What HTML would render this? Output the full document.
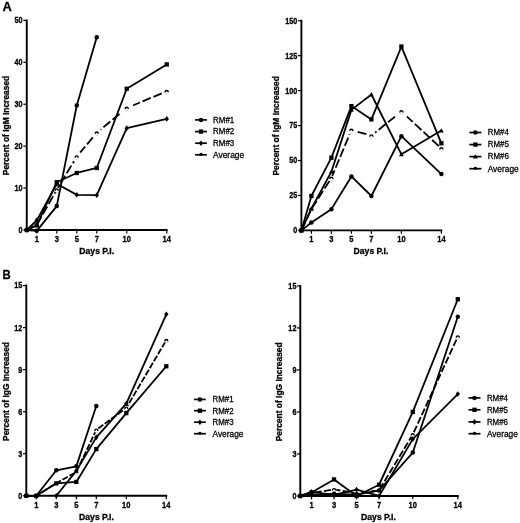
<!DOCTYPE html>
<html><head><meta charset="utf-8"><title>Figure</title>
<style>html,body{margin:0;padding:0;background:#fff}body{width:520px;height:523px;position:relative;overflow:hidden;font-family:"Liberation Sans",sans-serif}</style>
</head><body>
<svg width="520" height="523" viewBox="0 0 520 523" style="position:absolute;left:0;top:0;filter:blur(0.3px);font-family:'Liberation Sans',sans-serif">
<rect width="520" height="523" fill="#fff"/>
<text transform="translate(2.60 11.40) scale(1.0 1)" font-size="12.9" font-weight="bold" text-anchor="start" fill="#000" stroke="#000" stroke-width="0.3">A</text>
<text transform="translate(2.60 278.90) scale(0.9 1)" font-size="12.6" font-weight="bold" text-anchor="start" fill="#000" stroke="#000" stroke-width="0.3">B</text>
<path d="M26.75 230.00L34.60 226.05M36.97 224.58L41.42 216.76M42.82 214.28L47.27 206.45M48.68 203.97L53.12 196.15M54.53 193.67L56.75 189.76M56.75 189.76L59.08 185.90M59.08 185.90L59.08 185.90M60.55 183.46L65.20 175.76M66.68 173.32L71.33 165.62M72.80 163.18L76.75 156.64M76.75 156.64L77.62 155.59M77.62 155.59L77.62 155.59M79.45 153.41L85.23 146.51M87.06 144.32L92.84 137.42M94.67 135.24L96.75 132.75M96.75 132.75L101.19 129.09M101.19 129.09L101.19 129.09M103.39 127.27L110.33 121.55M112.53 119.73L119.48 114.01M119.48 114.01L119.48 114.01M121.67 112.20L126.75 108.01M126.75 108.01L128.98 107.08M128.98 107.08L128.98 107.08M131.61 105.97L139.91 102.50M139.91 102.50L139.91 102.50M142.54 101.39L150.84 97.91M153.47 96.81L161.77 93.33M164.40 92.23L166.75 91.24" fill="none" stroke="#000" stroke-width="1.8"/>
<circle cx="36.75" cy="225.17" r="2.40" fill="#fff"/><path d="M35.25 226.07V225.72A1.50 1.50 0 0 1 38.25 225.72V226.07" fill="none" stroke="#000" stroke-width="1.40"/><path d="M35.25 226.52A1.50 1.50 0 0 0 38.25 226.52" fill="none" stroke="#bbb" stroke-width="0.5"/>
<circle cx="56.75" cy="189.96" r="2.40" fill="#fff"/><path d="M55.25 190.86V190.51A1.50 1.50 0 0 1 58.25 190.51V190.86" fill="none" stroke="#000" stroke-width="1.40"/><path d="M55.25 191.31A1.50 1.50 0 0 0 58.25 191.31" fill="none" stroke="#bbb" stroke-width="0.5"/>
<circle cx="76.75" cy="156.64" r="5.4" fill="#fff"/><circle cx="76.75" cy="156.84" r="2.40" fill="#fff"/><path d="M75.25 157.74V157.39A1.50 1.50 0 0 1 78.25 157.39V157.74" fill="none" stroke="#000" stroke-width="1.40"/><path d="M75.25 158.19A1.50 1.50 0 0 0 78.25 158.19" fill="none" stroke="#bbb" stroke-width="0.5"/>
<circle cx="96.75" cy="132.75" r="5.0" fill="#fff"/><circle cx="96.75" cy="132.95" r="2.40" fill="#fff"/><path d="M95.25 133.85V133.50A1.50 1.50 0 0 1 98.25 133.50V133.85" fill="none" stroke="#000" stroke-width="1.40"/><path d="M95.25 134.30A1.50 1.50 0 0 0 98.25 134.30" fill="none" stroke="#bbb" stroke-width="0.5"/>
<circle cx="126.75" cy="108.01" r="7.0" fill="#fff"/><circle cx="126.75" cy="108.21" r="2.40" fill="#fff"/><path d="M125.25 109.11V108.76A1.50 1.50 0 0 1 128.25 108.76V109.11" fill="none" stroke="#000" stroke-width="1.40"/><path d="M125.25 109.56A1.50 1.50 0 0 0 128.25 109.56" fill="none" stroke="#bbb" stroke-width="0.5"/>
<circle cx="166.75" cy="91.44" r="2.40" fill="#fff"/><path d="M165.25 92.34V91.99A1.50 1.50 0 0 1 168.25 91.99V92.34" fill="none" stroke="#000" stroke-width="1.40"/><path d="M165.25 92.79A1.50 1.50 0 0 0 168.25 92.79" fill="none" stroke="#bbb" stroke-width="0.5"/>
<path d="M26.75 19.45V230.00H167.70" fill="none" stroke="#000" stroke-width="1.9" stroke-linejoin="miter"/>
<path d="M23.35 230.00H26.75" stroke="#000" stroke-width="1.2"/>
<text transform="translate(22.55 232.90) scale(0.88 1)" font-size="8.2" font-weight="bold" text-anchor="end" fill="#000" stroke="#000" stroke-width="0.3">0</text>
<path d="M23.35 188.08H26.75" stroke="#000" stroke-width="1.2"/>
<text transform="translate(22.55 190.98) scale(0.88 1)" font-size="8.2" font-weight="bold" text-anchor="end" fill="#000" stroke="#000" stroke-width="0.3">10</text>
<path d="M23.35 146.16H26.75" stroke="#000" stroke-width="1.2"/>
<text transform="translate(22.55 149.06) scale(0.88 1)" font-size="8.2" font-weight="bold" text-anchor="end" fill="#000" stroke="#000" stroke-width="0.3">20</text>
<path d="M23.35 104.24H26.75" stroke="#000" stroke-width="1.2"/>
<text transform="translate(22.55 107.14) scale(0.88 1)" font-size="8.2" font-weight="bold" text-anchor="end" fill="#000" stroke="#000" stroke-width="0.3">30</text>
<path d="M23.35 62.32H26.75" stroke="#000" stroke-width="1.2"/>
<text transform="translate(22.55 65.22) scale(0.88 1)" font-size="8.2" font-weight="bold" text-anchor="end" fill="#000" stroke="#000" stroke-width="0.3">40</text>
<path d="M23.35 20.40H26.75" stroke="#000" stroke-width="1.2"/>
<text transform="translate(22.55 23.30) scale(0.88 1)" font-size="8.2" font-weight="bold" text-anchor="end" fill="#000" stroke="#000" stroke-width="0.3">50</text>
<path d="M36.75 230.00V233.40" stroke="#000" stroke-width="1.2"/>
<text transform="translate(36.75 241.90) scale(0.92 1)" font-size="8.2" font-weight="bold" text-anchor="middle" fill="#000" stroke="#000" stroke-width="0.3">1</text>
<path d="M56.75 230.00V233.40" stroke="#000" stroke-width="1.2"/>
<text transform="translate(56.75 241.90) scale(0.92 1)" font-size="8.2" font-weight="bold" text-anchor="middle" fill="#000" stroke="#000" stroke-width="0.3">3</text>
<path d="M76.75 230.00V233.40" stroke="#000" stroke-width="1.2"/>
<text transform="translate(76.75 241.90) scale(0.92 1)" font-size="8.2" font-weight="bold" text-anchor="middle" fill="#000" stroke="#000" stroke-width="0.3">5</text>
<path d="M96.75 230.00V233.40" stroke="#000" stroke-width="1.2"/>
<text transform="translate(96.75 241.90) scale(0.92 1)" font-size="8.2" font-weight="bold" text-anchor="middle" fill="#000" stroke="#000" stroke-width="0.3">7</text>
<path d="M126.75 230.00V233.40" stroke="#000" stroke-width="1.2"/>
<text transform="translate(126.75 241.90) scale(0.92 1)" font-size="8.2" font-weight="bold" text-anchor="middle" fill="#000" stroke="#000" stroke-width="0.3">10</text>
<path d="M166.75 230.00V233.40" stroke="#000" stroke-width="1.2"/>
<text transform="translate(166.75 241.90) scale(0.92 1)" font-size="8.2" font-weight="bold" text-anchor="middle" fill="#000" stroke="#000" stroke-width="0.3">14</text>
<text transform="translate(96.75 254.00) scale(0.98 1)" font-size="8.8" font-weight="bold" text-anchor="middle" fill="#000" stroke="#000" stroke-width="0.3">Days P.I.</text>
<text transform="translate(9.30 125.50) rotate(-90) scale(0.955 1)" font-size="8.8" font-weight="bold" text-anchor="middle" fill="#000" stroke="#000" stroke-width="0.3">Percent of IgM Increased</text>
<polyline points="26.75,230.00 36.75,230.84 56.75,206.11 76.75,105.50 96.75,37.17" fill="none" stroke="#000" stroke-width="1.8" stroke-linejoin="round"/>
<polyline points="26.75,230.00 36.75,225.39 56.75,182.21 76.75,172.99 96.75,167.96 126.75,88.73 166.75,64.42" fill="none" stroke="#000" stroke-width="1.8" stroke-linejoin="round"/>
<polyline points="26.75,230.00 36.75,220.36 56.75,183.89 76.75,194.79 96.75,195.21 126.75,128.13 166.75,118.91" fill="none" stroke="#000" stroke-width="1.8" stroke-linejoin="round"/>
<circle cx="26.75" cy="230.00" r="2.25" fill="#000"/>
<circle cx="36.75" cy="230.84" r="2.25" fill="#000"/>
<circle cx="56.75" cy="206.11" r="2.25" fill="#000"/>
<circle cx="76.75" cy="105.50" r="2.25" fill="#000"/>
<circle cx="96.75" cy="37.17" r="2.25" fill="#000"/>
<rect x="24.60" y="227.85" width="4.30" height="4.30" fill="#000"/>
<rect x="34.60" y="223.24" width="4.30" height="4.30" fill="#000"/>
<rect x="54.60" y="180.06" width="4.30" height="4.30" fill="#000"/>
<rect x="74.60" y="170.84" width="4.30" height="4.30" fill="#000"/>
<rect x="94.60" y="165.81" width="4.30" height="4.30" fill="#000"/>
<rect x="124.60" y="86.58" width="4.30" height="4.30" fill="#000"/>
<rect x="164.60" y="62.27" width="4.30" height="4.30" fill="#000"/>
<path d="M26.75 227.20L28.93 230.00L26.75 232.80L24.57 230.00Z" fill="#000"/>
<path d="M36.75 217.56L38.93 220.36L36.75 223.16L34.57 220.36Z" fill="#000"/>
<path d="M56.75 181.09L58.93 183.89L56.75 186.69L54.57 183.89Z" fill="#000"/>
<path d="M76.75 191.99L78.93 194.79L76.75 197.59L74.57 194.79Z" fill="#000"/>
<path d="M96.75 192.41L98.93 195.21L96.75 198.01L94.57 195.21Z" fill="#000"/>
<path d="M126.75 125.33L128.93 128.13L126.75 130.93L124.57 128.13Z" fill="#000"/>
<path d="M166.75 116.11L168.93 118.91L166.75 121.71L164.57 118.91Z" fill="#000"/>
<path d="M195.10 119.90h11.80" stroke="#000" stroke-width="1.7"/>
<circle cx="201.00" cy="119.90" r="2.25" fill="#000"/>
<text transform="translate(213.10 122.70) scale(0.9 1)" font-size="8.8" text-anchor="start" fill="#000" stroke="#000" stroke-width="0.28">RM#1</text>
<path d="M195.10 131.60h11.80" stroke="#000" stroke-width="1.7"/>
<rect x="198.85" y="129.45" width="4.30" height="4.30" fill="#000"/>
<text transform="translate(213.10 134.40) scale(0.9 1)" font-size="8.8" text-anchor="start" fill="#000" stroke="#000" stroke-width="0.28">RM#2</text>
<path d="M195.10 143.20h11.80" stroke="#000" stroke-width="1.7"/>
<path d="M201.00 140.40L203.18 143.20L201.00 146.00L198.82 143.20Z" fill="#000"/>
<text transform="translate(213.10 146.00) scale(0.9 1)" font-size="8.8" text-anchor="start" fill="#000" stroke="#000" stroke-width="0.28">RM#3</text>
<path d="M195.10 154.80h11.80" stroke="#000" stroke-width="1.7"/>
<path d="M199.85 155.10V154.60A1.15 1.15 0 0 1 202.15 154.60V155.10Z" fill="#000" stroke="#000" stroke-width="1.2"/>
<text transform="translate(213.10 157.60) scale(0.95 1)" font-size="8.8" text-anchor="start" fill="#000" stroke="#000" stroke-width="0.28">Average</text>
<path d="M301.62 229.94L305.43 221.78M306.64 219.20L310.45 211.05M311.72 208.51L316.60 200.94M318.14 198.55L323.02 190.98M323.02 190.98L323.02 190.98M324.56 188.59L329.44 181.02M330.98 178.62L331.40 177.98M331.40 177.98L334.57 170.38M335.66 167.75L339.13 159.44M339.13 159.44L339.13 159.44M340.23 156.81L343.69 148.51M344.79 145.88L348.25 137.57M349.35 134.94L351.40 130.02M351.40 130.02L354.94 131.01M354.94 131.01L354.94 131.01M357.68 131.78L366.35 134.20M369.09 134.97L371.40 135.62M371.40 135.62L376.54 131.47M376.54 131.47L376.54 131.47M378.76 129.68L385.77 124.03M385.77 124.03L385.77 124.03M387.99 122.24L394.99 116.60M394.99 116.60L394.99 116.60M397.21 114.81L401.40 111.43M401.40 111.43L404.06 113.89M406.15 115.83L412.75 121.94M414.84 123.88L421.44 129.99M423.54 131.93L430.14 138.05M430.14 138.05L430.14 138.05M432.23 139.98L438.83 146.10M438.83 146.10L438.83 146.10M440.92 148.04L441.40 148.48" fill="none" stroke="#000" stroke-width="1.8"/>
<circle cx="311.40" cy="209.21" r="2.40" fill="#fff"/><path d="M309.90 210.11V209.76A1.50 1.50 0 0 1 312.90 209.76V210.11" fill="none" stroke="#000" stroke-width="1.40"/><path d="M309.90 210.56A1.50 1.50 0 0 0 312.90 210.56" fill="none" stroke="#bbb" stroke-width="0.5"/>
<circle cx="331.40" cy="178.18" r="2.40" fill="#fff"/><path d="M329.90 179.08V178.73A1.50 1.50 0 0 1 332.90 178.73V179.08" fill="none" stroke="#000" stroke-width="1.40"/><path d="M329.90 179.53A1.50 1.50 0 0 0 332.90 179.53" fill="none" stroke="#bbb" stroke-width="0.5"/>
<circle cx="351.40" cy="130.02" r="4.6" fill="#fff"/><circle cx="351.40" cy="130.22" r="2.40" fill="#fff"/><path d="M349.90 131.12V130.77A1.50 1.50 0 0 1 352.90 130.77V131.12" fill="none" stroke="#000" stroke-width="1.40"/><path d="M349.90 131.57A1.50 1.50 0 0 0 352.90 131.57" fill="none" stroke="#bbb" stroke-width="0.5"/>
<circle cx="371.40" cy="135.62" r="4.6" fill="#fff"/><circle cx="371.40" cy="135.82" r="2.40" fill="#fff"/><path d="M369.90 136.72V136.37A1.50 1.50 0 0 1 372.90 136.37V136.72" fill="none" stroke="#000" stroke-width="1.40"/><path d="M369.90 137.17A1.50 1.50 0 0 0 372.90 137.17" fill="none" stroke="#bbb" stroke-width="0.5"/>
<circle cx="401.40" cy="111.43" r="7.6" fill="#fff"/><circle cx="401.40" cy="111.63" r="2.40" fill="#fff"/><path d="M399.90 112.53V112.18A1.50 1.50 0 0 1 402.90 112.18V112.53" fill="none" stroke="#000" stroke-width="1.40"/><path d="M399.90 112.98A1.50 1.50 0 0 0 402.90 112.98" fill="none" stroke="#bbb" stroke-width="0.5"/>
<circle cx="441.40" cy="148.68" r="2.40" fill="#fff"/><path d="M439.90 149.58V149.23A1.50 1.50 0 0 1 442.90 149.23V149.58" fill="none" stroke="#000" stroke-width="1.40"/><path d="M439.90 150.03A1.50 1.50 0 0 0 442.90 150.03" fill="none" stroke="#bbb" stroke-width="0.5"/>
<path d="M301.40 19.75V230.40H442.35" fill="none" stroke="#000" stroke-width="1.9" stroke-linejoin="miter"/>
<path d="M298.00 230.40H301.40" stroke="#000" stroke-width="1.2"/>
<text transform="translate(297.30 233.30) scale(0.88 1)" font-size="8.2" font-weight="bold" text-anchor="end" fill="#000" stroke="#000" stroke-width="0.3">0</text>
<path d="M298.00 195.45H301.40" stroke="#000" stroke-width="1.2"/>
<text transform="translate(297.30 198.35) scale(0.88 1)" font-size="8.2" font-weight="bold" text-anchor="end" fill="#000" stroke="#000" stroke-width="0.3">25</text>
<path d="M298.00 160.50H301.40" stroke="#000" stroke-width="1.2"/>
<text transform="translate(297.30 163.40) scale(0.88 1)" font-size="8.2" font-weight="bold" text-anchor="end" fill="#000" stroke="#000" stroke-width="0.3">50</text>
<path d="M298.00 125.55H301.40" stroke="#000" stroke-width="1.2"/>
<text transform="translate(297.30 128.45) scale(0.88 1)" font-size="8.2" font-weight="bold" text-anchor="end" fill="#000" stroke="#000" stroke-width="0.3">75</text>
<path d="M298.00 90.60H301.40" stroke="#000" stroke-width="1.2"/>
<text transform="translate(297.30 93.50) scale(0.88 1)" font-size="8.2" font-weight="bold" text-anchor="end" fill="#000" stroke="#000" stroke-width="0.3">100</text>
<path d="M298.00 55.65H301.40" stroke="#000" stroke-width="1.2"/>
<text transform="translate(297.30 58.55) scale(0.88 1)" font-size="8.2" font-weight="bold" text-anchor="end" fill="#000" stroke="#000" stroke-width="0.3">125</text>
<path d="M298.00 20.70H301.40" stroke="#000" stroke-width="1.2"/>
<text transform="translate(297.30 23.60) scale(0.88 1)" font-size="8.2" font-weight="bold" text-anchor="end" fill="#000" stroke="#000" stroke-width="0.3">150</text>
<path d="M311.40 230.40V233.80" stroke="#000" stroke-width="1.2"/>
<text transform="translate(311.40 242.30) scale(0.92 1)" font-size="8.2" font-weight="bold" text-anchor="middle" fill="#000" stroke="#000" stroke-width="0.3">1</text>
<path d="M331.40 230.40V233.80" stroke="#000" stroke-width="1.2"/>
<text transform="translate(331.40 242.30) scale(0.92 1)" font-size="8.2" font-weight="bold" text-anchor="middle" fill="#000" stroke="#000" stroke-width="0.3">3</text>
<path d="M351.40 230.40V233.80" stroke="#000" stroke-width="1.2"/>
<text transform="translate(351.40 242.30) scale(0.92 1)" font-size="8.2" font-weight="bold" text-anchor="middle" fill="#000" stroke="#000" stroke-width="0.3">5</text>
<path d="M371.40 230.40V233.80" stroke="#000" stroke-width="1.2"/>
<text transform="translate(371.40 242.30) scale(0.92 1)" font-size="8.2" font-weight="bold" text-anchor="middle" fill="#000" stroke="#000" stroke-width="0.3">7</text>
<path d="M401.40 230.40V233.80" stroke="#000" stroke-width="1.2"/>
<text transform="translate(401.40 242.30) scale(0.92 1)" font-size="8.2" font-weight="bold" text-anchor="middle" fill="#000" stroke="#000" stroke-width="0.3">10</text>
<path d="M441.40 230.40V233.80" stroke="#000" stroke-width="1.2"/>
<text transform="translate(441.40 242.30) scale(0.92 1)" font-size="8.2" font-weight="bold" text-anchor="middle" fill="#000" stroke="#000" stroke-width="0.3">14</text>
<text transform="translate(371.00 254.20) scale(0.98 1)" font-size="8.8" font-weight="bold" text-anchor="middle" fill="#000" stroke="#000" stroke-width="0.3">Days P.I.</text>
<text transform="translate(279.40 125.85) rotate(-90) scale(0.955 1)" font-size="8.8" font-weight="bold" text-anchor="middle" fill="#000" stroke="#000" stroke-width="0.3">Percent of IgM Increased</text>
<polyline points="301.40,230.40 311.40,222.43 331.40,209.15 351.40,176.44 371.40,196.01 401.40,136.17 441.40,174.06" fill="none" stroke="#000" stroke-width="1.8" stroke-linejoin="round"/>
<polyline points="301.40,230.40 311.40,196.01 331.40,157.70 351.40,106.12 371.40,119.40 401.40,46.56 441.40,143.30" fill="none" stroke="#000" stroke-width="1.8" stroke-linejoin="round"/>
<polyline points="301.40,230.40 311.40,208.73 331.40,171.68 351.40,109.89 371.40,94.51 401.40,154.35 441.40,130.58" fill="none" stroke="#000" stroke-width="1.8" stroke-linejoin="round"/>
<circle cx="301.40" cy="230.40" r="2.25" fill="#000"/>
<circle cx="311.40" cy="222.43" r="2.25" fill="#000"/>
<circle cx="331.40" cy="209.15" r="2.25" fill="#000"/>
<circle cx="351.40" cy="176.44" r="2.25" fill="#000"/>
<circle cx="371.40" cy="196.01" r="2.25" fill="#000"/>
<circle cx="401.40" cy="136.17" r="2.25" fill="#000"/>
<circle cx="441.40" cy="174.06" r="2.25" fill="#000"/>
<rect x="299.25" y="228.25" width="4.30" height="4.30" fill="#000"/>
<rect x="309.25" y="193.86" width="4.30" height="4.30" fill="#000"/>
<rect x="329.25" y="155.55" width="4.30" height="4.30" fill="#000"/>
<rect x="349.25" y="103.97" width="4.30" height="4.30" fill="#000"/>
<rect x="369.25" y="117.25" width="4.30" height="4.30" fill="#000"/>
<rect x="399.25" y="44.41" width="4.30" height="4.30" fill="#000"/>
<rect x="439.25" y="141.15" width="4.30" height="4.30" fill="#000"/>
<path d="M301.40 228.00L303.80 232.32L299.00 232.32Z" fill="#000"/>
<path d="M311.40 206.33L313.80 210.65L309.00 210.65Z" fill="#000"/>
<path d="M331.40 169.28L333.80 173.60L329.00 173.60Z" fill="#000"/>
<path d="M351.40 107.49L353.80 111.81L349.00 111.81Z" fill="#000"/>
<path d="M371.40 92.11L373.80 96.43L369.00 96.43Z" fill="#000"/>
<path d="M401.40 151.95L403.80 156.27L399.00 156.27Z" fill="#000"/>
<path d="M441.40 128.18L443.80 132.50L439.00 132.50Z" fill="#000"/>
<path d="M469.40 132.50h12.00" stroke="#000" stroke-width="1.7"/>
<circle cx="475.40" cy="132.50" r="2.25" fill="#000"/>
<text transform="translate(487.70 135.30) scale(0.9 1)" font-size="8.8" text-anchor="start" fill="#000" stroke="#000" stroke-width="0.28">RM#4</text>
<path d="M469.40 144.60h12.00" stroke="#000" stroke-width="1.7"/>
<rect x="473.25" y="142.45" width="4.30" height="4.30" fill="#000"/>
<text transform="translate(487.70 147.40) scale(0.9 1)" font-size="8.8" text-anchor="start" fill="#000" stroke="#000" stroke-width="0.28">RM#5</text>
<path d="M469.40 156.60h12.00" stroke="#000" stroke-width="1.7"/>
<path d="M475.40 154.20L477.80 158.52L473.00 158.52Z" fill="#000"/>
<text transform="translate(487.70 159.40) scale(0.9 1)" font-size="8.8" text-anchor="start" fill="#000" stroke="#000" stroke-width="0.28">RM#6</text>
<path d="M469.40 168.70h12.00" stroke="#000" stroke-width="1.7"/>
<path d="M474.25 169.00V168.50A1.15 1.15 0 0 1 476.55 168.50V169.00Z" fill="#000" stroke="#000" stroke-width="1.2"/>
<text transform="translate(487.70 171.50) scale(0.95 1)" font-size="8.8" text-anchor="start" fill="#000" stroke="#000" stroke-width="0.28">Average</text>
<path d="M36.30 495.80L40.18 493.36M41.70 492.40L47.03 489.03M48.55 488.07L53.88 484.71M53.88 484.71L53.88 484.71M55.40 483.75L56.30 483.18M56.30 483.18L60.87 480.62M62.44 479.74L67.93 476.66M67.93 476.66L67.93 476.66M69.50 475.78L75.00 472.70M75.00 472.70L75.00 472.70M76.43 471.69L79.14 466.00M79.14 466.00L79.14 466.00M79.91 464.38L82.62 458.69M83.39 457.06L86.10 451.38M86.87 449.75L89.57 444.06M89.57 444.06L89.57 444.06M90.35 442.43L93.05 436.75M93.83 435.12L96.30 429.92M96.30 429.92L96.74 429.60M98.19 428.53L103.27 424.81M103.27 424.81L103.27 424.81M104.72 423.74L109.80 420.02M111.25 418.95L116.33 415.23M116.33 415.23L116.33 415.23M117.78 414.16L122.86 410.44M122.86 410.44L122.86 410.44M124.31 409.37L126.30 407.91M126.30 407.91L128.25 404.61M129.17 403.06L132.37 397.64M133.29 396.09L136.49 390.66M137.41 389.11L140.61 383.69M141.53 382.14L144.73 376.72M144.73 376.72L144.73 376.72M145.65 375.17L148.85 369.74M148.85 369.74L148.85 369.74M149.77 368.19L152.97 362.77M153.89 361.22L157.09 355.79M158.01 354.24L161.21 348.82M162.13 347.27L165.33 341.85M165.33 341.85L165.33 341.85M166.25 340.30L166.30 340.21" fill="none" stroke="#000" stroke-width="1.8"/>
<circle cx="36.30" cy="496.00" r="2.40" fill="#fff"/><path d="M34.80 496.90V496.55A1.50 1.50 0 0 1 37.80 496.55V496.90" fill="none" stroke="#000" stroke-width="1.40"/><path d="M34.80 497.35A1.50 1.50 0 0 0 37.80 497.35" fill="none" stroke="#bbb" stroke-width="0.5"/>
<circle cx="56.30" cy="483.38" r="2.40" fill="#fff"/><path d="M54.80 484.28V483.93A1.50 1.50 0 0 1 57.80 483.93V484.28" fill="none" stroke="#000" stroke-width="1.40"/><path d="M54.80 484.73A1.50 1.50 0 0 0 57.80 484.73" fill="none" stroke="#bbb" stroke-width="0.5"/>
<circle cx="76.30" cy="472.17" r="2.40" fill="#fff"/><path d="M74.80 473.07V472.72A1.50 1.50 0 0 1 77.80 472.72V473.07" fill="none" stroke="#000" stroke-width="1.40"/><path d="M74.80 473.52A1.50 1.50 0 0 0 77.80 473.52" fill="none" stroke="#bbb" stroke-width="0.5"/>
<circle cx="96.30" cy="430.12" r="2.40" fill="#fff"/><path d="M94.80 431.02V430.67A1.50 1.50 0 0 1 97.80 430.67V431.02" fill="none" stroke="#000" stroke-width="1.40"/><path d="M94.80 431.47A1.50 1.50 0 0 0 97.80 431.47" fill="none" stroke="#bbb" stroke-width="0.5"/>
<circle cx="126.30" cy="408.11" r="2.40" fill="#fff"/><path d="M124.80 409.01V408.66A1.50 1.50 0 0 1 127.80 408.66V409.01" fill="none" stroke="#000" stroke-width="1.40"/><path d="M124.80 409.46A1.50 1.50 0 0 0 127.80 409.46" fill="none" stroke="#bbb" stroke-width="0.5"/>
<circle cx="166.30" cy="340.41" r="2.40" fill="#fff"/><path d="M164.80 341.31V340.96A1.50 1.50 0 0 1 167.80 340.96V341.31" fill="none" stroke="#000" stroke-width="1.40"/><path d="M164.80 341.76A1.50 1.50 0 0 0 167.80 341.76" fill="none" stroke="#bbb" stroke-width="0.5"/>
<path d="M26.30 284.60V495.80H167.25" fill="none" stroke="#000" stroke-width="1.9" stroke-linejoin="miter"/>
<path d="M22.90 495.80H26.30" stroke="#000" stroke-width="1.2"/>
<text transform="translate(22.20 498.70) scale(0.88 1)" font-size="8.2" font-weight="bold" text-anchor="end" fill="#000" stroke="#000" stroke-width="0.3">0</text>
<path d="M22.90 453.75H26.30" stroke="#000" stroke-width="1.2"/>
<text transform="translate(22.20 456.65) scale(0.88 1)" font-size="8.2" font-weight="bold" text-anchor="end" fill="#000" stroke="#000" stroke-width="0.3">3</text>
<path d="M22.90 411.70H26.30" stroke="#000" stroke-width="1.2"/>
<text transform="translate(22.20 414.60) scale(0.88 1)" font-size="8.2" font-weight="bold" text-anchor="end" fill="#000" stroke="#000" stroke-width="0.3">6</text>
<path d="M22.90 369.65H26.30" stroke="#000" stroke-width="1.2"/>
<text transform="translate(22.20 372.55) scale(0.88 1)" font-size="8.2" font-weight="bold" text-anchor="end" fill="#000" stroke="#000" stroke-width="0.3">9</text>
<path d="M22.90 327.60H26.30" stroke="#000" stroke-width="1.2"/>
<text transform="translate(22.20 330.50) scale(0.88 1)" font-size="8.2" font-weight="bold" text-anchor="end" fill="#000" stroke="#000" stroke-width="0.3">12</text>
<path d="M22.90 285.55H26.30" stroke="#000" stroke-width="1.2"/>
<text transform="translate(22.20 288.44) scale(0.88 1)" font-size="8.2" font-weight="bold" text-anchor="end" fill="#000" stroke="#000" stroke-width="0.3">15</text>
<path d="M36.30 495.80V499.20" stroke="#000" stroke-width="1.2"/>
<text transform="translate(36.30 507.70) scale(0.92 1)" font-size="8.2" font-weight="bold" text-anchor="middle" fill="#000" stroke="#000" stroke-width="0.3">1</text>
<path d="M56.30 495.80V499.20" stroke="#000" stroke-width="1.2"/>
<text transform="translate(56.30 507.70) scale(0.92 1)" font-size="8.2" font-weight="bold" text-anchor="middle" fill="#000" stroke="#000" stroke-width="0.3">3</text>
<path d="M76.30 495.80V499.20" stroke="#000" stroke-width="1.2"/>
<text transform="translate(76.30 507.70) scale(0.92 1)" font-size="8.2" font-weight="bold" text-anchor="middle" fill="#000" stroke="#000" stroke-width="0.3">5</text>
<path d="M96.30 495.80V499.20" stroke="#000" stroke-width="1.2"/>
<text transform="translate(96.30 507.70) scale(0.92 1)" font-size="8.2" font-weight="bold" text-anchor="middle" fill="#000" stroke="#000" stroke-width="0.3">7</text>
<path d="M126.30 495.80V499.20" stroke="#000" stroke-width="1.2"/>
<text transform="translate(126.30 507.70) scale(0.92 1)" font-size="8.2" font-weight="bold" text-anchor="middle" fill="#000" stroke="#000" stroke-width="0.3">10</text>
<path d="M166.30 495.80V499.20" stroke="#000" stroke-width="1.2"/>
<text transform="translate(166.30 507.70) scale(0.92 1)" font-size="8.2" font-weight="bold" text-anchor="middle" fill="#000" stroke="#000" stroke-width="0.3">14</text>
<text transform="translate(96.50 519.70) scale(0.98 1)" font-size="8.8" font-weight="bold" text-anchor="middle" fill="#000" stroke="#000" stroke-width="0.3">Days P.I.</text>
<text transform="translate(9.30 391.47) rotate(-90) scale(0.955 1)" font-size="8.8" font-weight="bold" text-anchor="middle" fill="#000" stroke="#000" stroke-width="0.3">Percent of IgG Increased</text>
<polyline points="26.30,495.80 36.30,495.80 56.30,470.29 76.30,466.36 96.30,406.09" fill="none" stroke="#000" stroke-width="1.8" stroke-linejoin="round"/>
<polyline points="26.30,495.80 36.30,495.80 56.30,483.32 76.30,481.92 96.30,449.12 126.30,413.10 166.30,366.28" fill="none" stroke="#000" stroke-width="1.8" stroke-linejoin="round"/>
<polyline points="56.30,495.80 76.30,470.85 96.30,437.35 126.30,403.57 166.30,314.28" fill="none" stroke="#000" stroke-width="1.8" stroke-linejoin="round"/>
<circle cx="26.30" cy="495.80" r="2.25" fill="#000"/>
<circle cx="36.30" cy="495.80" r="2.25" fill="#000"/>
<circle cx="56.30" cy="470.29" r="2.25" fill="#000"/>
<circle cx="76.30" cy="466.36" r="2.25" fill="#000"/>
<circle cx="96.30" cy="406.09" r="2.25" fill="#000"/>
<rect x="24.15" y="493.65" width="4.30" height="4.30" fill="#000"/>
<rect x="34.15" y="493.65" width="4.30" height="4.30" fill="#000"/>
<rect x="54.15" y="481.17" width="4.30" height="4.30" fill="#000"/>
<rect x="74.15" y="479.77" width="4.30" height="4.30" fill="#000"/>
<rect x="94.15" y="446.97" width="4.30" height="4.30" fill="#000"/>
<rect x="124.15" y="410.95" width="4.30" height="4.30" fill="#000"/>
<rect x="164.15" y="364.13" width="4.30" height="4.30" fill="#000"/>
<path d="M56.30 493.00L58.48 495.80L56.30 498.60L54.12 495.80Z" fill="#000"/>
<path d="M76.30 468.05L78.48 470.85L76.30 473.65L74.12 470.85Z" fill="#000"/>
<path d="M96.30 434.55L98.48 437.35L96.30 440.15L94.12 437.35Z" fill="#000"/>
<path d="M126.30 400.77L128.48 403.57L126.30 406.37L124.12 403.57Z" fill="#000"/>
<path d="M166.30 311.48L168.48 314.28L166.30 317.08L164.12 314.28Z" fill="#000"/>
<path d="M194.00 399.40h11.80" stroke="#000" stroke-width="1.7"/>
<circle cx="199.90" cy="399.40" r="2.25" fill="#000"/>
<text transform="translate(212.50 402.20) scale(0.9 1)" font-size="8.8" text-anchor="start" fill="#000" stroke="#000" stroke-width="0.28">RM#1</text>
<path d="M194.00 410.70h11.80" stroke="#000" stroke-width="1.7"/>
<rect x="197.75" y="408.55" width="4.30" height="4.30" fill="#000"/>
<text transform="translate(212.50 413.50) scale(0.9 1)" font-size="8.8" text-anchor="start" fill="#000" stroke="#000" stroke-width="0.28">RM#2</text>
<path d="M194.00 422.20h11.80" stroke="#000" stroke-width="1.7"/>
<path d="M199.90 419.40L202.08 422.20L199.90 425.00L197.72 422.20Z" fill="#000"/>
<text transform="translate(212.50 425.00) scale(0.9 1)" font-size="8.8" text-anchor="start" fill="#000" stroke="#000" stroke-width="0.28">RM#3</text>
<path d="M194.00 433.70h11.80" stroke="#000" stroke-width="1.7"/>
<path d="M198.75 434.00V433.50A1.15 1.15 0 0 1 201.05 433.50V434.00Z" fill="#000" stroke="#000" stroke-width="1.2"/>
<text transform="translate(212.50 436.50) scale(0.95 1)" font-size="8.8" text-anchor="start" fill="#000" stroke="#000" stroke-width="0.28">Average</text>
<path d="M300.30 495.95L302.97 495.28M305.30 494.70L311.55 493.15M311.55 493.15L312.20 493.04M314.57 492.64L321.57 491.47M323.94 491.07L330.94 489.89M333.31 489.49L334.05 489.37M334.05 489.37L340.30 490.50M342.66 490.92L349.65 492.18M352.01 492.61L356.55 493.43M356.55 493.43L359.01 493.09M361.39 492.77L368.42 491.80M368.42 491.80L368.42 491.80M370.80 491.48L377.84 490.52M377.84 490.52L377.84 490.52M379.66 489.34L383.33 483.27M383.33 483.27L383.33 483.27M384.57 481.21L388.24 475.14M388.24 475.14L388.24 475.14M389.48 473.08L393.15 467.01M393.15 467.01L393.15 467.01M394.40 464.95L398.07 458.87M398.07 458.87L398.07 458.87M399.31 456.82L402.98 450.74M402.98 450.74L402.98 450.74M404.22 448.69L407.89 442.61M407.89 442.61L407.89 442.61M409.13 440.56L412.80 434.49M412.80 434.49L412.80 434.48M412.80 434.48L412.80 434.48M413.81 432.30L416.77 425.85M416.77 425.85L416.77 425.85M417.78 423.67L420.74 417.22M420.74 417.22L420.74 417.22M421.75 415.04L424.71 408.59M424.71 408.59L424.71 408.59M425.71 406.41L428.68 399.96M428.68 399.96L428.68 399.96M429.68 397.78L432.65 391.32M432.65 391.32L432.65 391.32M433.65 389.14L436.62 382.69M436.62 382.69L436.62 382.69M437.62 380.51L440.59 374.06M440.59 374.06L440.59 374.06M441.59 371.88L444.56 365.43M444.56 365.43L444.56 365.43M445.56 363.25L448.53 356.80M448.53 356.80L448.53 356.80M449.53 354.62L452.49 348.17M452.49 348.17L452.49 348.17M453.50 345.99L456.46 339.54M456.46 339.54L456.46 339.54M457.47 337.36L457.80 336.63" fill="none" stroke="#000" stroke-width="1.8"/>
<circle cx="311.55" cy="493.35" r="2.40" fill="#fff"/><path d="M310.05 494.25V493.90A1.50 1.50 0 0 1 313.05 493.90V494.25" fill="none" stroke="#000" stroke-width="1.40"/><path d="M310.05 494.70A1.50 1.50 0 0 0 313.05 494.70" fill="none" stroke="#bbb" stroke-width="0.5"/>
<circle cx="334.05" cy="489.57" r="2.40" fill="#fff"/><path d="M332.55 490.47V490.12A1.50 1.50 0 0 1 335.55 490.12V490.47" fill="none" stroke="#000" stroke-width="1.40"/><path d="M332.55 490.92A1.50 1.50 0 0 0 335.55 490.92" fill="none" stroke="#bbb" stroke-width="0.5"/>
<circle cx="356.55" cy="493.63" r="2.40" fill="#fff"/><path d="M355.05 494.53V494.18A1.50 1.50 0 0 1 358.05 494.18V494.53" fill="none" stroke="#000" stroke-width="1.40"/><path d="M355.05 494.98A1.50 1.50 0 0 0 358.05 494.98" fill="none" stroke="#bbb" stroke-width="0.5"/>
<circle cx="379.05" cy="490.55" r="2.40" fill="#fff"/><path d="M377.55 491.45V491.10A1.50 1.50 0 0 1 380.55 491.10V491.45" fill="none" stroke="#000" stroke-width="1.40"/><path d="M377.55 491.90A1.50 1.50 0 0 0 380.55 491.90" fill="none" stroke="#bbb" stroke-width="0.5"/>
<circle cx="412.80" cy="434.69" r="2.40" fill="#fff"/><path d="M411.30 435.59V435.24A1.50 1.50 0 0 1 414.30 435.24V435.59" fill="none" stroke="#000" stroke-width="1.40"/><path d="M411.30 436.04A1.50 1.50 0 0 0 414.30 436.04" fill="none" stroke="#bbb" stroke-width="0.5"/>
<circle cx="457.80" cy="336.83" r="2.40" fill="#fff"/><path d="M456.30 337.73V337.38A1.50 1.50 0 0 1 459.30 337.38V337.73" fill="none" stroke="#000" stroke-width="1.40"/><path d="M456.30 338.18A1.50 1.50 0 0 0 459.30 338.18" fill="none" stroke="#bbb" stroke-width="0.5"/>
<path d="M300.30 285.00V495.95H458.75" fill="none" stroke="#000" stroke-width="1.9" stroke-linejoin="miter"/>
<path d="M296.90 495.95H300.30" stroke="#000" stroke-width="1.2"/>
<text transform="translate(296.40 498.85) scale(0.88 1)" font-size="8.2" font-weight="bold" text-anchor="end" fill="#000" stroke="#000" stroke-width="0.3">0</text>
<path d="M296.90 453.95H300.30" stroke="#000" stroke-width="1.2"/>
<text transform="translate(296.40 456.85) scale(0.88 1)" font-size="8.2" font-weight="bold" text-anchor="end" fill="#000" stroke="#000" stroke-width="0.3">3</text>
<path d="M296.90 411.95H300.30" stroke="#000" stroke-width="1.2"/>
<text transform="translate(296.40 414.85) scale(0.88 1)" font-size="8.2" font-weight="bold" text-anchor="end" fill="#000" stroke="#000" stroke-width="0.3">6</text>
<path d="M296.90 369.95H300.30" stroke="#000" stroke-width="1.2"/>
<text transform="translate(296.40 372.85) scale(0.88 1)" font-size="8.2" font-weight="bold" text-anchor="end" fill="#000" stroke="#000" stroke-width="0.3">9</text>
<path d="M296.90 327.95H300.30" stroke="#000" stroke-width="1.2"/>
<text transform="translate(296.40 330.85) scale(0.88 1)" font-size="8.2" font-weight="bold" text-anchor="end" fill="#000" stroke="#000" stroke-width="0.3">12</text>
<path d="M296.90 285.95H300.30" stroke="#000" stroke-width="1.2"/>
<text transform="translate(296.40 288.85) scale(0.88 1)" font-size="8.2" font-weight="bold" text-anchor="end" fill="#000" stroke="#000" stroke-width="0.3">15</text>
<path d="M311.55 495.95V499.35" stroke="#000" stroke-width="1.2"/>
<text transform="translate(311.55 507.85) scale(0.92 1)" font-size="8.2" font-weight="bold" text-anchor="middle" fill="#000" stroke="#000" stroke-width="0.3">1</text>
<path d="M334.05 495.95V499.35" stroke="#000" stroke-width="1.2"/>
<text transform="translate(334.05 507.85) scale(0.92 1)" font-size="8.2" font-weight="bold" text-anchor="middle" fill="#000" stroke="#000" stroke-width="0.3">3</text>
<path d="M356.55 495.95V499.35" stroke="#000" stroke-width="1.2"/>
<text transform="translate(356.55 507.85) scale(0.92 1)" font-size="8.2" font-weight="bold" text-anchor="middle" fill="#000" stroke="#000" stroke-width="0.3">5</text>
<path d="M379.05 495.95V499.35" stroke="#000" stroke-width="1.2"/>
<text transform="translate(379.05 507.85) scale(0.92 1)" font-size="8.2" font-weight="bold" text-anchor="middle" fill="#000" stroke="#000" stroke-width="0.3">7</text>
<path d="M412.80 495.95V499.35" stroke="#000" stroke-width="1.2"/>
<text transform="translate(412.80 507.85) scale(0.92 1)" font-size="8.2" font-weight="bold" text-anchor="middle" fill="#000" stroke="#000" stroke-width="0.3">10</text>
<path d="M457.80 495.95V499.35" stroke="#000" stroke-width="1.2"/>
<text transform="translate(457.80 507.85) scale(0.92 1)" font-size="8.2" font-weight="bold" text-anchor="middle" fill="#000" stroke="#000" stroke-width="0.3">14</text>
<text transform="translate(378.50 519.55) scale(0.98 1)" font-size="8.8" font-weight="bold" text-anchor="middle" fill="#000" stroke="#000" stroke-width="0.3">Days P.I.</text>
<text transform="translate(282.40 391.85) rotate(-90) scale(0.955 1)" font-size="8.8" font-weight="bold" text-anchor="middle" fill="#000" stroke="#000" stroke-width="0.3">Percent of IgG Increased</text>
<polyline points="300.30,495.95 311.55,494.97 334.05,493.85 356.55,494.55 379.05,490.49 412.80,452.55 457.80,316.75" fill="none" stroke="#000" stroke-width="1.8" stroke-linejoin="round"/>
<polyline points="300.30,495.95 311.55,492.45 334.05,479.43 356.55,495.95 379.05,484.75 412.80,411.95 457.80,299.25" fill="none" stroke="#000" stroke-width="1.8" stroke-linejoin="round"/>
<polyline points="300.30,495.95 311.55,491.89 334.05,494.97 356.55,489.65 379.05,495.95 412.80,439.11 457.80,394.03" fill="none" stroke="#000" stroke-width="1.8" stroke-linejoin="round"/>
<circle cx="300.30" cy="495.95" r="2.25" fill="#000"/>
<circle cx="311.55" cy="494.97" r="2.25" fill="#000"/>
<circle cx="334.05" cy="493.85" r="2.25" fill="#000"/>
<circle cx="356.55" cy="494.55" r="2.25" fill="#000"/>
<circle cx="379.05" cy="490.49" r="2.25" fill="#000"/>
<circle cx="412.80" cy="452.55" r="2.25" fill="#000"/>
<circle cx="457.80" cy="316.75" r="2.25" fill="#000"/>
<rect x="298.15" y="493.80" width="4.30" height="4.30" fill="#000"/>
<rect x="309.40" y="490.30" width="4.30" height="4.30" fill="#000"/>
<rect x="331.90" y="477.28" width="4.30" height="4.30" fill="#000"/>
<rect x="354.40" y="493.80" width="4.30" height="4.30" fill="#000"/>
<rect x="376.90" y="482.60" width="4.30" height="4.30" fill="#000"/>
<rect x="410.65" y="409.80" width="4.30" height="4.30" fill="#000"/>
<rect x="455.65" y="297.10" width="4.30" height="4.30" fill="#000"/>
<path d="M300.30 493.15L302.48 495.95L300.30 498.75L298.12 495.95Z" fill="#000"/>
<path d="M311.55 489.09L313.73 491.89L311.55 494.69L309.37 491.89Z" fill="#000"/>
<path d="M334.05 492.17L336.23 494.97L334.05 497.77L331.87 494.97Z" fill="#000"/>
<path d="M356.55 486.85L358.73 489.65L356.55 492.45L354.37 489.65Z" fill="#000"/>
<path d="M379.05 493.15L381.23 495.95L379.05 498.75L376.87 495.95Z" fill="#000"/>
<path d="M412.80 436.31L414.98 439.11L412.80 441.91L410.62 439.11Z" fill="#000"/>
<path d="M457.80 391.23L459.98 394.03L457.80 396.83L455.62 394.03Z" fill="#000"/>
<path d="M468.50 397.90h12.00" stroke="#000" stroke-width="1.7"/>
<circle cx="474.50" cy="397.90" r="2.25" fill="#000"/>
<text transform="translate(486.90 400.70) scale(0.9 1)" font-size="8.8" text-anchor="start" fill="#000" stroke="#000" stroke-width="0.28">RM#4</text>
<path d="M468.50 409.80h12.00" stroke="#000" stroke-width="1.7"/>
<rect x="472.35" y="407.65" width="4.30" height="4.30" fill="#000"/>
<text transform="translate(486.90 412.60) scale(0.9 1)" font-size="8.8" text-anchor="start" fill="#000" stroke="#000" stroke-width="0.28">RM#5</text>
<path d="M468.50 421.90h12.00" stroke="#000" stroke-width="1.7"/>
<path d="M474.50 419.10L476.68 421.90L474.50 424.70L472.32 421.90Z" fill="#000"/>
<text transform="translate(486.90 424.70) scale(0.9 1)" font-size="8.8" text-anchor="start" fill="#000" stroke="#000" stroke-width="0.28">RM#6</text>
<path d="M468.50 433.70h12.00" stroke="#000" stroke-width="1.7"/>
<path d="M473.35 434.00V433.50A1.15 1.15 0 0 1 475.65 433.50V434.00Z" fill="#000" stroke="#000" stroke-width="1.2"/>
<text transform="translate(486.90 436.50) scale(0.95 1)" font-size="8.8" text-anchor="start" fill="#000" stroke="#000" stroke-width="0.28">Average</text>
</svg>
</body></html>
